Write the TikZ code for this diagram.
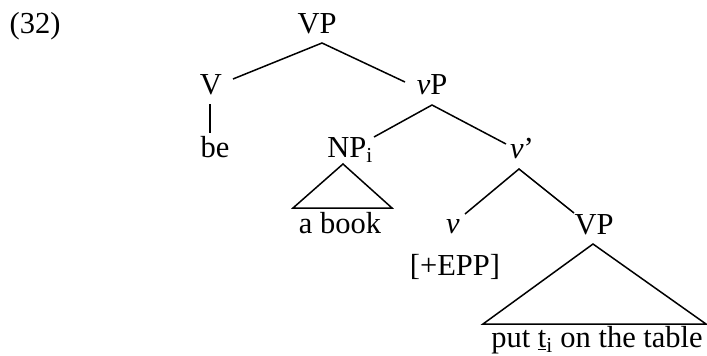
\documentclass[tikz,border=0pt]{standalone}
\usepackage{fontspec}
\setmainfont{Liberation Serif}
\begin{document}
\begin{tikzpicture}[x=1pt,y=-1pt,
  lbl/.style={inner sep=0pt,anchor=base,font=\fontsize{30.5}{34}\selectfont},
  edge/.style={line width=1.5pt}]
\useasboundingbox (0,0) rectangle (707,356);
% labels
\node[lbl] (ex) at (35,33) {(32)};
\node[lbl] (VPa) at (317,33) {VP};
\node[lbl] (V) at (211,94) {V};
\node[lbl] (vP) at (432,94) {\textit{v}P};
\node[lbl] (be) at (215,157) {be};
\node[lbl] (NP) at (350,157) {NP\textsubscript{i}};
\node[lbl] (vbar) at (522,158) {\textit{v}’};
\node[lbl] (abook) at (340,233) {a book};
\node[lbl] (v) at (453,233) {\textit{v}};
\node[lbl] (VPb) at (594,234) {VP};
\node[lbl] (epp) at (455,275) {[+EPP]};
\node[lbl] (put) at (597,347) {put \underline{t}\textsubscript{i} on the table};
% connector ends
\coordinate (VPaB) at (322,43);
\coordinate (VT) at (233,79);
\coordinate (vPT) at (405,82);
\coordinate (VB) at (210,104);
\coordinate (beT) at (210,133);
\coordinate (vPB) at (432,105);
\coordinate (NPT) at (374,137);
\coordinate (vbarT) at (506,144);
\coordinate (NPB) at (343,164);
\coordinate (NPl) at (293,208);
\coordinate (NPr) at (392,208);
\coordinate (vbarB) at (519,169);
\coordinate (vT) at (465,214);
\coordinate (VPbT) at (574,213);
\coordinate (VPbB) at (593,244);
\coordinate (VPbl) at (483,324);
\coordinate (VPbr) at (706,324);
% connectors
\draw[edge] (VT) -- (VPaB) -- (vPT);
\draw[edge] (VB) -- (beT);
\draw[edge] (NPT) -- (vPB) -- (vbarT);
\draw[edge] (NPB) -- (NPl) -- (NPr) -- cycle;
\draw[edge] (vT) -- (vbarB) -- (VPbT);
\draw[edge] (VPbB) -- (VPbl) -- (VPbr) -- cycle;
\end{tikzpicture}
\end{document}
